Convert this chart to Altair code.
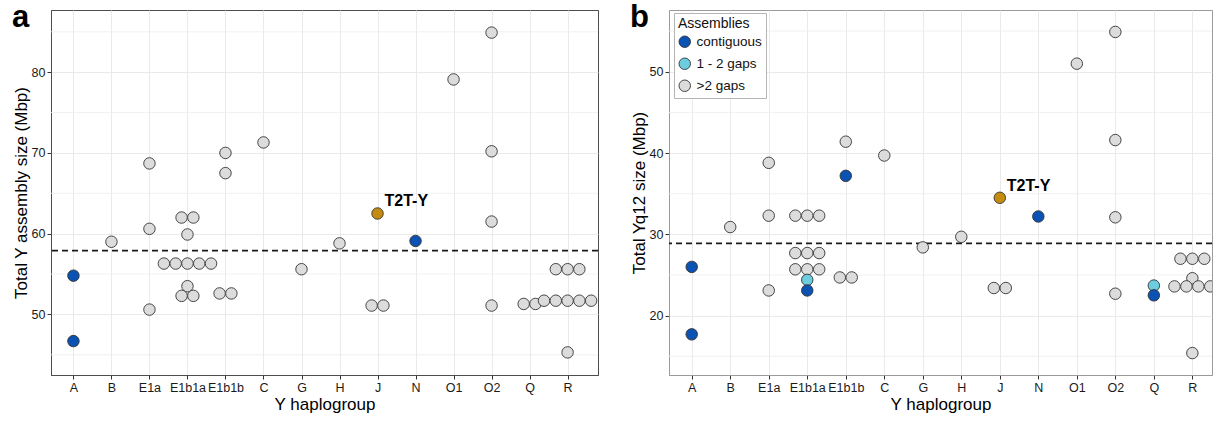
import altair as alt
import pandas as pd

FONT = "Liberation Sans"

HAPLOGROUPS = ["A", "B", "E1a", "E1b1a", "E1b1b", "C", "G", "H", "J", "N", "O1", "O2", "Q", "R"]
CLASSES = ["contiguous", "1 - 2 gaps", ">2 gaps", "T2T-Y"]
CLASS_COLORS = ["#0a52b3", "#6ccde0", "#dcdcdc", "#c48c0e"]

# Total Y assembly size (Mbp) per assembly
total_group = ["A", "A", "B", "E1a", "E1a", "E1a",
               "E1b1a", "E1b1a", "E1b1a", "E1b1a", "E1b1a", "E1b1a", "E1b1a", "E1b1a", "E1b1a", "E1b1a", "E1b1a",
               "E1b1b", "E1b1b", "E1b1b", "E1b1b", "C", "G", "H", "J", "J", "J", "N", "O1",
               "O2", "O2", "O2", "O2", "Q", "Q",
               "R", "R", "R", "R", "R", "R", "R", "R", "R"]
total_size = [54.8, 46.7, 59.0, 68.7, 60.6, 50.6,
              62.0, 62.0, 59.9, 56.3, 56.3, 56.3, 56.3, 56.3, 53.5, 52.3, 52.3,
              70.0, 67.5, 52.6, 52.6, 71.3, 55.6, 58.8, 62.5, 51.1, 51.1, 59.1, 79.1,
              84.9, 70.2, 61.5, 51.1, 51.3, 51.3,
              55.6, 55.6, 55.6, 51.7, 51.7, 51.7, 51.7, 51.7, 45.3]
total_class = ["contiguous", "contiguous", ">2 gaps", ">2 gaps", ">2 gaps", ">2 gaps",
               ">2 gaps", ">2 gaps", ">2 gaps", ">2 gaps", ">2 gaps", ">2 gaps", ">2 gaps", ">2 gaps", ">2 gaps", ">2 gaps", ">2 gaps",
               ">2 gaps", ">2 gaps", ">2 gaps", ">2 gaps", ">2 gaps", ">2 gaps", ">2 gaps", "T2T-Y", ">2 gaps", ">2 gaps", "contiguous", ">2 gaps",
               ">2 gaps", ">2 gaps", ">2 gaps", ">2 gaps", ">2 gaps", ">2 gaps",
               ">2 gaps", ">2 gaps", ">2 gaps", ">2 gaps", ">2 gaps", ">2 gaps", ">2 gaps", ">2 gaps", ">2 gaps"]
total_median = 57.9

# Total Yq12 size (Mbp) per assembly
yq12_group = total_group
yq12_size = [26.0, 17.7, 30.9, 38.8, 32.3, 23.1,
             32.3, 32.3, 32.3, 27.7, 27.7, 27.7, 25.7, 25.7, 25.7, 24.4, 23.1,
             41.4, 37.2, 24.7, 24.7, 39.7, 28.4, 29.7, 34.5, 23.4, 23.4, 32.2, 51.0,
             54.9, 41.6, 32.1, 22.7, 23.7, 22.5,
             27.0, 27.0, 27.0, 24.6, 23.6, 23.6, 23.6, 23.6, 15.4]
yq12_class = ["contiguous", "contiguous", ">2 gaps", ">2 gaps", ">2 gaps", ">2 gaps",
              ">2 gaps", ">2 gaps", ">2 gaps", ">2 gaps", ">2 gaps", ">2 gaps", ">2 gaps", ">2 gaps", ">2 gaps", "1 - 2 gaps", "contiguous",
              ">2 gaps", "contiguous", ">2 gaps", ">2 gaps", ">2 gaps", ">2 gaps", ">2 gaps", "T2T-Y", ">2 gaps", ">2 gaps", "contiguous", ">2 gaps",
              ">2 gaps", ">2 gaps", ">2 gaps", ">2 gaps", "1 - 2 gaps", "contiguous",
              ">2 gaps", ">2 gaps", ">2 gaps", ">2 gaps", ">2 gaps", ">2 gaps", ">2 gaps", ">2 gaps", ">2 gaps"]
yq12_median = 28.9

DODGE = 0.31  # horizontal spread (in category units) of assemblies with equal size
LABEL_EXPR = "[" + ",".join("'%s'" % h for h in HAPLOGROUPS) + "][datum.value]"
POINT_SIZE = 132


def panel(letter, groups, sizes, classes, median, ytitle, ydomain, yticks, xmax, width,
          legend, frame):
    df = pd.DataFrame({
        "group": groups,
        "idx": [HAPLOGROUPS.index(g) for g in groups],
        "size": sizes,
        "cls": classes,
    })
    base = alt.Chart(df).transform_joinaggregate(
        n="count()", groupby=["group", "size"]
    ).transform_window(
        k="row_number()", groupby=["group", "size"]
    ).transform_calculate(
        xpos=f"datum.idx + {DODGE} * (datum.k - 1 - (datum.n - 1) / 2)"
    )

    xscale = alt.Scale(domain=[-0.59, xmax], nice=False, zero=False)
    yscale = alt.Scale(domain=ydomain, nice=False, zero=False)
    xaxis = alt.Axis(values=list(range(len(HAPLOGROUPS))), labelExpr=LABEL_EXPR,
                     title="Y haplogroup", grid=True, domainColor=frame)
    yaxis = alt.Axis(values=yticks, title=ytitle, grid=True, domainColor=frame)

    minor = [t - 5 for t in yticks] + [yticks[-1] + 5]
    minor_grid = alt.Chart(pd.DataFrame({"v": minor})).mark_rule(
        color="#eeeeee", strokeWidth=0.8
    ).encode(y=alt.Y("v:Q", scale=yscale, axis=yaxis))

    dashed = alt.Chart(pd.DataFrame({"v": [median]})).mark_rule(
        color="#1a1a1a", strokeWidth=1.7, strokeDash=[6, 4]
    ).encode(y=alt.Y("v:Q", scale=yscale))

    if legend:
        leg = alt.Legend(
            title="Assemblies", values=CLASSES[:3], orient="none", legendX=5, legendY=3,
            fillColor="white", strokeColor="#b5b5b5", padding=4, cornerRadius=0,
            titleFontSize=14, titleFontWeight="normal", titleFont=FONT, titleColor="#111",
            titlePadding=4, labelFontSize=13.5, labelFont=FONT, labelColor="#111",
            symbolType="circle", symbolSize=POINT_SIZE, symbolStrokeColor="#333",
            symbolStrokeWidth=0.9, symbolOpacity=1, rowPadding=6, labelOffset=5,
        )
    else:
        leg = None

    points = base.mark_circle(
        size=POINT_SIZE, opacity=1, stroke="#333333", strokeWidth=0.9, clip=True
    ).encode(
        x=alt.X("xpos:Q", scale=xscale, axis=xaxis),
        y=alt.Y("size:Q", scale=yscale),
        color=alt.Color("cls:N", scale=alt.Scale(domain=CLASSES, range=CLASS_COLORS), legend=leg),
    )

    t2t = base.transform_filter(alt.datum.cls == "T2T-Y").mark_text(
        align="left", baseline="middle", dx=7, dy=-12,
        font=FONT, fontSize=16, fontWeight="bold", color="#000"
    ).encode(x=alt.X("xpos:Q", scale=xscale), y=alt.Y("size:Q", scale=yscale), text="cls:N")

    tag = alt.Chart(pd.DataFrame({"t": [letter]})).mark_text(
        align="left", baseline="alphabetic", font=FONT, fontSize=31, fontWeight="bold", color="#000"
    ).encode(x=alt.value(-39), y=alt.value(17), text="t:N")

    return alt.layer(minor_grid, dashed, points, t2t, tag).properties(
        width=width, height=365, view=alt.ViewBackground(stroke=frame, strokeWidth=1)
    )


panel_a = panel("a", total_group, total_size, total_class, total_median,
                "Total Y assembly size (Mbp)", [42.5, 87.7], [50, 60, 70, 80], 13.8, 547,
                False, "#4d4d4d")
panel_b = panel("b", yq12_group, yq12_size, yq12_class, yq12_median,
                "Total Yq12 size (Mbp)", [12.7, 57.6], [20, 30, 40, 50], 13.51, 543,
                True, "#9a9a9a")

chart = alt.hconcat(panel_a, panel_b, spacing=71, bounds="flush").resolve_scale(
    x="independent", y="independent", color="independent"
).configure(
    padding={"left": 11, "top": 1, "right": 0, "bottom": 0},
    font=FONT,
).configure_axis(
    labelFont=FONT, labelFontSize=12.5, labelColor="#1a1a1a",
    titleFont=FONT, titleFontSize=17, titleFontWeight="normal", titleColor="#000",
    tickColor="#333333", tickSize=4, labelPadding=2,
    gridColor="#e8e8e8", gridWidth=0.9,
).configure_axisY(
    titlePadding=1,
).configure_axisX(
    titlePadding=3,
)

chart.save("out.html", embed_options={"renderer": "svg", "actions": False})
